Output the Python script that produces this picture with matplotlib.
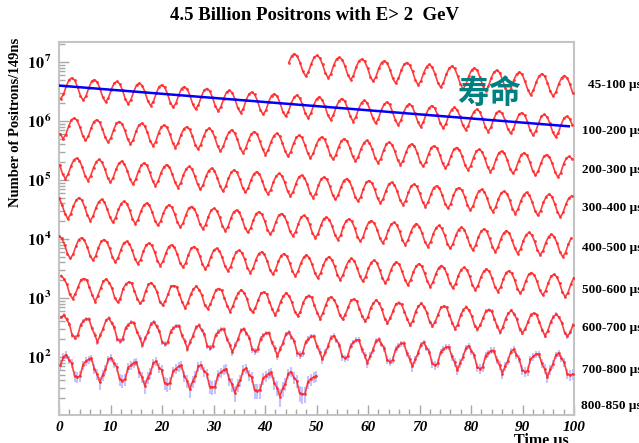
import numpy as np
import matplotlib
matplotlib.use('Agg')
import matplotlib.pyplot as plt
from matplotlib.ticker import MultipleLocator, LogLocator, FuncFormatter, NullFormatter

plt.rcParams['font.family'] = ['Liberation Serif', 'DejaVu Sans']
plt.rcParams['mathtext.fontset'] = 'stix'

# time spectrum, wrapped every 100 us; bins of 0.546 us (1/8 of the g-2 period)
bin_width = 0.546
row_names = ['45-100 µs', '100-200 µs', '200-300 µs', '300-400 µs', '400-500 µs',
             '500-600 µs', '600-700 µs', '700-800 µs', '800-850 µs']
row_start = [44.62, 100.32, 200.23, 300.15, 400.07, 500.01, 600.45, 700.37, 800.29]

# log10(positrons / 149 ns)
row_45_100 = [
    6.99, 7.10,
    7.14, 7.10, 6.99, 6.84, 6.76, 6.83, 6.97, 7.08,
    7.11, 7.07, 6.96, 6.81, 6.73, 6.80, 6.95, 7.05,
    7.08, 7.04, 6.93, 6.78, 6.70, 6.77, 6.92, 7.02,
    7.05, 7.01, 6.90, 6.75, 6.67, 6.75, 6.89, 6.99,
    7.02, 6.98, 6.87, 6.72, 6.64, 6.72, 6.86, 6.96,
    6.99, 6.95, 6.84, 6.69, 6.61, 6.68, 6.82, 6.92,
    6.96, 6.91, 6.80, 6.65, 6.57, 6.65, 6.79, 6.89,
    6.93, 6.89, 6.77, 6.63, 6.54, 6.62, 6.76, 6.86,
    6.90, 6.86, 6.74, 6.60, 6.51, 6.59, 6.73, 6.83,
    6.86, 6.82, 6.70, 6.56, 6.47, 6.55, 6.69, 6.79,
    6.83, 6.79, 6.67, 6.53, 6.44, 6.52, 6.66, 6.76,
    6.80, 6.76, 6.65, 6.50, 6.42, 6.49, 6.63, 6.73,
    6.77, 6.73, 6.62, 6.47,
]
row_100_200 = [
    6.38, 6.45, 6.59, 6.70,
    6.73, 6.69, 6.58, 6.43, 6.35, 6.42, 6.56, 6.67,
    6.70, 6.66, 6.55, 6.40, 6.32, 6.39, 6.53, 6.64,
    6.67, 6.63, 6.52, 6.37, 6.29, 6.36, 6.50, 6.61,
    6.64, 6.60, 6.49, 6.34, 6.26, 6.33, 6.47, 6.58,
    6.61, 6.57, 6.46, 6.31, 6.23, 6.30, 6.44, 6.55,
    6.58, 6.54, 6.43, 6.28, 6.20, 6.27, 6.41, 6.52,
    6.55, 6.51, 6.40, 6.25, 6.17, 6.24, 6.38, 6.49,
    6.52, 6.48, 6.37, 6.22, 6.14, 6.21, 6.36, 6.46,
    6.49, 6.45, 6.34, 6.19, 6.11, 6.18, 6.33, 6.43,
    6.46, 6.42, 6.31, 6.16, 6.08, 6.16, 6.30, 6.40,
    6.44, 6.39, 6.28, 6.13, 6.05, 6.13, 6.27, 6.37,
    6.41, 6.36, 6.25, 6.10, 6.02, 6.10, 6.24, 6.34,
    6.38, 6.34, 6.22, 6.08, 5.99, 6.07, 6.21, 6.31,
    6.35, 6.31, 6.19, 6.05, 5.96, 6.04, 6.18, 6.28,
    6.32, 6.28, 6.16, 6.02, 5.93, 6.01, 6.15, 6.25,
    6.29, 6.25, 6.13, 5.99, 5.90, 5.98, 6.12, 6.22,
    6.26, 6.22, 6.11, 5.96, 5.88, 5.95, 6.09, 6.19,
    6.23, 6.19, 6.08, 5.93, 5.85, 5.92, 6.06, 6.16,
    6.20, 6.16, 6.05, 5.90, 5.82, 5.89, 6.03, 6.14,
    6.17, 6.13, 6.02, 5.87, 5.79, 5.86, 6.00, 6.11,
    6.14, 6.10, 5.99, 5.84, 5.76, 5.83, 5.97, 6.08,
    6.11, 6.07, 5.96, 5.81, 5.73, 5.80, 5.94, 6.05,
    6.08, 6.04, 5.93,
]
row_200_300 = [
    5.78, 5.70, 5.77, 5.91, 6.02,
    6.05, 6.01, 5.90, 5.75, 5.67, 5.74, 5.88, 5.99,
    6.02, 5.98, 5.87, 5.72, 5.64, 5.71, 5.85, 5.96,
    5.99, 5.95, 5.84, 5.69, 5.61, 5.68, 5.83, 5.93,
    5.96, 5.92, 5.81, 5.66, 5.58, 5.65, 5.80, 5.90,
    5.93, 5.89, 5.78, 5.63, 5.55, 5.63, 5.77, 5.87,
    5.90, 5.86, 5.75, 5.60, 5.52, 5.60, 5.74, 5.84,
    5.88, 5.83, 5.72, 5.57, 5.49, 5.57, 5.71, 5.81,
    5.85, 5.80, 5.69, 5.54, 5.46, 5.54, 5.68, 5.78,
    5.82, 5.78, 5.66, 5.52, 5.43, 5.51, 5.65, 5.75,
    5.79, 5.75, 5.63, 5.49, 5.40, 5.48, 5.62, 5.72,
    5.76, 5.72, 5.60, 5.46, 5.37, 5.45, 5.59, 5.69,
    5.73, 5.69, 5.58, 5.43, 5.35, 5.42, 5.56, 5.66,
    5.70, 5.66, 5.55, 5.40, 5.32, 5.39, 5.53, 5.63,
    5.67, 5.63, 5.52, 5.37, 5.29, 5.36, 5.50, 5.61,
    5.64, 5.60, 5.49, 5.34, 5.26, 5.33, 5.47, 5.58,
    5.61, 5.57, 5.46, 5.31, 5.23, 5.30, 5.44, 5.55,
    5.58, 5.54, 5.43, 5.28, 5.20, 5.27, 5.41, 5.52,
    5.55, 5.51, 5.40, 5.25, 5.17, 5.24, 5.38, 5.49,
    5.52, 5.48, 5.37, 5.22, 5.14, 5.21, 5.35, 5.46,
    5.49, 5.45, 5.34, 5.19, 5.11, 5.18, 5.32, 5.43,
    5.46, 5.42, 5.31, 5.16, 5.08, 5.15, 5.29, 5.40,
    5.43, 5.39, 5.28, 5.13, 5.05, 5.12, 5.27, 5.37,
    5.40, 5.36,
]
row_300_400 = [
    5.25, 5.10, 5.02, 5.10, 5.24, 5.34,
    5.37, 5.33, 5.22, 5.07, 4.99, 5.07, 5.21, 5.31,
    5.35, 5.30, 5.19, 5.04, 4.96, 5.04, 5.18, 5.28,
    5.32, 5.27, 5.16, 5.01, 4.93, 5.01, 5.15, 5.25,
    5.29, 5.25, 5.13, 4.99, 4.90, 4.98, 5.12, 5.22,
    5.26, 5.22, 5.10, 4.96, 4.87, 4.95, 5.09, 5.19,
    5.23, 5.19, 5.07, 4.93, 4.84, 4.92, 5.06, 5.16,
    5.20, 5.16, 5.04, 4.90, 4.81, 4.89, 5.03, 5.13,
    5.17, 5.13, 5.02, 4.87, 4.79, 4.86, 5.00, 5.10,
    5.14, 5.10, 4.99, 4.84, 4.76, 4.83, 4.97, 5.07,
    5.11, 5.07, 4.96, 4.81, 4.73, 4.80, 4.94, 5.05,
    5.08, 5.04, 4.93, 4.78, 4.70, 4.77, 4.91, 5.02,
    5.05, 5.01, 4.90, 4.75, 4.67, 4.74, 4.88, 4.99,
    5.02, 4.98, 4.87, 4.72, 4.64, 4.71, 4.85, 4.96,
    4.99, 4.95, 4.84, 4.69, 4.61, 4.68, 4.82, 4.93,
    4.96, 4.92, 4.81, 4.66, 4.58, 4.65, 4.79, 4.90,
    4.93, 4.89, 4.78, 4.63, 4.55, 4.62, 4.76, 4.87,
    4.90, 4.86, 4.75, 4.60, 4.52, 4.59, 4.74, 4.84,
    4.87, 4.83, 4.72, 4.57, 4.49, 4.56, 4.71, 4.81,
    4.84, 4.80, 4.69, 4.54, 4.46, 4.54, 4.68, 4.78,
    4.81, 4.77, 4.66, 4.51, 4.43, 4.51, 4.65, 4.75,
    4.79, 4.74, 4.63, 4.48, 4.40, 4.48, 4.62, 4.72,
    4.76, 4.72, 4.60, 4.46, 4.37, 4.45, 4.59, 4.69,
    4.73,
]
row_400_500 = [
    4.69, 4.57, 4.43, 4.34, 4.42, 4.56, 4.66,
    4.70, 4.66, 4.54, 4.40, 4.31, 4.39, 4.53, 4.63,
    4.67, 4.63, 4.51, 4.37, 4.28, 4.36, 4.50, 4.60,
    4.64, 4.60, 4.49, 4.34, 4.26, 4.33, 4.47, 4.57,
    4.61, 4.57, 4.46, 4.31, 4.23, 4.30, 4.44, 4.54,
    4.58, 4.54, 4.43, 4.28, 4.20, 4.27, 4.41, 4.52,
    4.55, 4.51, 4.40, 4.25, 4.17, 4.24, 4.38, 4.49,
    4.52, 4.48, 4.37, 4.22, 4.14, 4.21, 4.35, 4.46,
    4.49, 4.45, 4.34, 4.19, 4.11, 4.18, 4.32, 4.43,
    4.46, 4.42, 4.31, 4.16, 4.08, 4.15, 4.29, 4.40,
    4.43, 4.39, 4.28, 4.13, 4.05, 4.12, 4.26, 4.37,
    4.40, 4.36, 4.25, 4.10, 4.02, 4.09, 4.23, 4.34,
    4.37, 4.33, 4.22, 4.07, 3.99, 4.06, 4.21, 4.31,
    4.34, 4.30, 4.19, 4.04, 3.96, 4.03, 4.18, 4.28,
    4.31, 4.27, 4.16, 4.01, 3.93, 4.01, 4.15, 4.25,
    4.28, 4.24, 4.13, 3.98, 3.90, 3.98, 4.12, 4.22,
    4.26, 4.21, 4.10, 3.95, 3.87, 3.95, 4.09, 4.19,
    4.23, 4.18, 4.07, 3.92, 3.84, 3.92, 4.06, 4.16,
    4.20, 4.16, 4.04, 3.90, 3.81, 3.89, 4.03, 4.13,
    4.17, 4.13, 4.01, 3.87, 3.78, 3.86, 4.00, 4.10,
    4.14, 4.10, 3.98, 3.84, 3.75, 3.83, 3.97, 4.07,
    4.11, 4.07, 3.96, 3.81, 3.73, 3.80, 3.94, 4.04,
    4.08, 4.04, 3.93, 3.78, 3.70, 3.77, 3.91, 4.01,
]
row_500_600 = [
    4.05, 4.01, 3.90, 3.75, 3.67, 3.74, 3.88, 3.99,
    4.02, 3.98, 3.87, 3.72, 3.64, 3.71, 3.85, 3.96,
    3.99, 3.95, 3.84, 3.69, 3.61, 3.68, 3.82, 3.93,
    3.96, 3.92, 3.81, 3.66, 3.58, 3.65, 3.79, 3.90,
    3.93, 3.89, 3.78, 3.63, 3.55, 3.62, 3.76, 3.87,
    3.90, 3.86, 3.75, 3.60, 3.52, 3.59, 3.73, 3.84,
    3.87, 3.83, 3.72, 3.57, 3.49, 3.56, 3.70, 3.81,
    3.84, 3.80, 3.69, 3.54, 3.46, 3.53, 3.67, 3.78,
    3.81, 3.77, 3.66, 3.51, 3.43, 3.50, 3.65, 3.75,
    3.78, 3.74, 3.63, 3.48, 3.40, 3.48, 3.62, 3.72,
    3.75, 3.71, 3.60, 3.45, 3.37, 3.45, 3.59, 3.69,
    3.73, 3.68, 3.57, 3.42, 3.34, 3.42, 3.56, 3.66,
    3.70, 3.65, 3.54, 3.39, 3.31, 3.39, 3.53, 3.63,
    3.67, 3.63, 3.51, 3.37, 3.28, 3.36, 3.50, 3.60,
    3.64, 3.60, 3.48, 3.34, 3.25, 3.33, 3.47, 3.57,
    3.61, 3.57, 3.45, 3.31, 3.22, 3.30, 3.44, 3.54,
    3.58, 3.54, 3.42, 3.28, 3.19, 3.27, 3.41, 3.51,
    3.55, 3.51, 3.40, 3.25, 3.17, 3.24, 3.38, 3.48,
    3.52, 3.48, 3.37, 3.22, 3.14, 3.21, 3.35, 3.45,
    3.49, 3.45, 3.34, 3.19, 3.11, 3.18, 3.32, 3.43,
    3.46, 3.42, 3.31, 3.16, 3.08, 3.15, 3.29, 3.40,
    3.43, 3.39, 3.28, 3.13, 3.05, 3.12, 3.26, 3.37,
    3.40, 3.36, 3.25, 3.10, 3.02, 3.09, 3.23, 3.34,
]
row_600_700 = [
    3.38, 3.32, 3.23, 3.06, 2.99, 3.07, 3.19, 3.31,
    3.33, 3.31, 3.18, 3.05, 2.94, 3.04, 3.17, 3.29,
    3.32, 3.26, 3.17, 3.00, 2.93, 2.99, 3.16, 3.24,
    3.27, 3.25, 3.12, 2.99, 2.91, 2.96, 3.12, 3.23,
    3.26, 3.20, 3.11, 2.94, 2.88, 2.95, 3.07, 3.20,
    3.21, 3.19, 3.06, 2.93, 2.83, 2.92, 3.06, 3.15,
    3.20, 3.14, 3.05, 2.88, 2.82, 2.89, 3.02, 3.14,
    3.16, 3.13, 3.00, 2.87, 2.77, 2.86, 3.00, 3.09,
    3.14, 3.09, 2.99, 2.82, 2.76, 2.83, 2.96, 3.08,
    3.10, 3.07, 2.94, 2.81, 2.71, 2.80, 2.94, 3.03,
    3.09, 3.03, 2.93, 2.77, 2.70, 2.76, 2.92, 3.01,
    3.04, 3.01, 2.88, 2.75, 2.65, 2.74, 2.88, 2.99,
    3.02, 2.97, 2.87, 2.71, 2.64, 2.72, 2.84, 2.96,
    2.98, 2.95, 2.82, 2.69, 2.61, 2.67, 2.83, 2.91,
    2.97, 2.91, 2.81, 2.65, 2.58, 2.66, 2.78, 2.90,
    2.92, 2.89, 2.77, 2.64, 2.54, 2.61, 2.77, 2.86,
    2.91, 2.85, 2.75, 2.59, 2.53, 2.60, 2.72, 2.84,
    2.86, 2.84, 2.71, 2.58, 2.48, 2.55, 2.71, 2.80,
    2.85, 2.79, 2.69, 2.53, 2.47, 2.54, 2.66, 2.78,
    2.80, 2.78, 2.65, 2.52, 2.42, 2.50, 2.65, 2.74,
    2.79, 2.73, 2.64, 2.47, 2.41, 2.48, 2.60, 2.72,
    2.74, 2.72, 2.59, 2.46, 2.36, 2.44, 2.59, 2.68,
    2.73, 2.67, 2.58, 2.41, 2.35, 2.42, 2.55,
]
row_700_800 = [
    2.67,
    2.71, 2.64, 2.56, 2.37, 2.33, 2.37, 2.54, 2.61,
    2.65, 2.64, 2.49, 2.38, 2.26, 2.37, 2.48, 2.62,
    2.66, 2.58, 2.50, 2.31, 2.27, 2.31, 2.49, 2.55,
    2.59, 2.58, 2.43, 2.33, 2.20, 2.32, 2.42, 2.56,
    2.60, 2.52, 2.44, 2.25, 2.22, 2.25, 2.43, 2.49,
    2.53, 2.53, 2.37, 2.27, 2.14, 2.26, 2.36, 2.50,
    2.54, 2.46, 2.39, 2.19, 2.16, 2.19, 2.37, 2.43,
    2.47, 2.47, 2.31, 2.21, 2.08, 2.20, 2.30, 2.45,
    2.48, 2.40, 2.33, 2.13, 2.10, 2.13, 2.31, 2.37,
    2.41, 2.41, 2.25, 2.15, 2.02, 2.14, 2.24, 2.39,
    2.42, 2.34, 2.27, 2.07, 2.04, 2.07, 2.25, 2.31,
    2.35, 2.35, 2.19, 2.09, 1.96, 2.08, 2.18, 2.33,
    2.36, 2.28, 2.21, 2.01, 1.98, 2.01, 2.19, 2.25,
    2.29, 2.29, 2.13, 2.03, 1.90, 2.02, 2.12, 2.27,
    2.30, 2.22, 2.15, 1.95, 1.92, 1.95, 2.13, 2.19,
    2.23, 2.23, 2.07, 1.97, 1.84, 1.96, 2.06, 2.21,
    2.25, 2.16, 2.09, 1.89, 1.86, 1.89, 2.08, 2.13,
    2.17, 2.17, 2.01, 1.91, 1.78, 1.90, 2.00, 2.15,
    2.19, 2.10, 2.03, 1.83, 1.80, 1.83, 2.02, 2.07,
    2.11, 2.11, 1.95, 1.86, 1.72, 1.85, 1.94, 2.09,
    2.13, 2.04, 1.97, 1.78, 1.75, 1.77, 1.96, 2.01,
    2.05, 2.05, 1.89, 1.80, 1.66, 1.79, 1.88, 2.03,
    2.07, 1.98, 1.91, 1.72, 1.69, 1.71,
]
row_800_850 = [
    1.86, 2.00,
    2.04, 1.95, 1.89, 1.68, 1.66, 1.68, 1.87, 1.93,
    1.96, 1.98, 1.80, 1.71, 1.57, 1.70, 1.79, 1.96,
    1.99, 1.89, 1.83, 1.62, 1.60, 1.62, 1.82, 1.86,
    1.90, 1.92, 1.74, 1.66, 1.51, 1.65, 1.73, 1.90,
    1.93, 1.82, 1.78, 1.56, 1.54, 1.56, 1.76, 1.80,
    1.84, 1.86, 1.68, 1.60, 1.45, 1.59, 1.67, 1.84,
    1.87, 1.76, 1.72, 1.50, 1.49, 1.50, 1.70, 1.74,
    1.78, 1.80, 1.62, 1.54, 1.39, 1.53, 1.61, 1.78,
    1.81, 1.70, 1.66, 1.44, 1.43, 1.44, 1.64, 1.68,
    1.72, 1.74, 1.56, 1.48, 1.33, 1.47, 1.55, 1.72,
    1.75, 1.65, 1.60, 1.39, 1.37, 1.38, 1.58, 1.63,
    1.66, 1.68,
]
rows = [row_45_100, row_100_200, row_200_300, row_300_400, row_400_500,
        row_500_600, row_600_700, row_700_800, row_800_850]

# exponential (lifetime) line drawn over the 100-200 us row
life_t = [0, 99]
life_log = [6.60, 5.91]

# right-hand row labels, y in pixels from the top of the image
label_y_px = [85, 131, 170, 208, 248, 290, 328, 370, 406]

W, H = 639, 443
fig = plt.figure(figsize=(W / 100, H / 100), dpi=100)
ax = fig.add_axes([59 / W, 1 - 415 / H, 515 / W, 373 / H])

for start, vals in zip(row_start, rows):
    v = np.array(vals)
    t = start + bin_width * np.arange(len(v))
    x = t - 100 * np.floor(start / 100)
    n = 10 ** v
    # statistical error bars, drawn a bit wide as in the reference
    ax.errorbar(x, n, yerr=1.5 * np.sqrt(n), fmt='none', ecolor='#7a7aff',
                elinewidth=1.5, alpha=0.45, zorder=2)
    ax.plot(x, n, color='#ff2a2a', lw=1.2, marker='o', ms=2.0, mew=0,
            alpha=0.9, zorder=3)

ax.plot(life_t, 10 ** np.array(life_log), color='#0000ff', lw=1.8, zorder=4)

ax.set_yscale('log')
ax.set_xlim(0, 100)
ax.set_ylim(10.4, 2.18e7)
ax.xaxis.set_major_locator(MultipleLocator(10))
ax.xaxis.set_minor_locator(MultipleLocator(2))
ax.yaxis.set_major_locator(LogLocator(base=10))
ax.yaxis.set_minor_locator(LogLocator(base=10, subs=np.arange(2, 10), numticks=20))
ax.yaxis.set_minor_formatter(NullFormatter())
ax.yaxis.set_major_formatter(FuncFormatter(
    lambda v, p: r'$\mathbf{10^{\,%d}}$' % int(round(np.log10(v)))))

for s in ax.spines.values():
    s.set_color('#c4c4c4')
    s.set_linewidth(1.5)
ax.tick_params(which='both', direction='in', color='#a8a8a8')
ax.tick_params(which='major', length=7, width=1)
ax.tick_params(which='minor', length=4, width=1)
ax.tick_params(axis='y', labelsize=11.5, pad=5)
ax.tick_params(axis='x', labelsize=11, pad=4)
for lab in ax.get_xticklabels():
    lab.set_fontweight('bold')
    lab.set_fontstyle('italic')

fig.text(315 / W, 1 - 16 / H, '4.5 Billion Positrons with E> 2  GeV',
         ha='center', va='center', fontsize=13.5, weight='bold')
fig.text(16 / W, 1 - 122 / H, 'Number of Positrons/149ns', rotation=90,
         ha='center', va='center', fontsize=10.5, weight='bold')
fig.text(541 / W, 1 - 433 / H, 'Time µs', ha='center', va='top',
         fontsize=11.5, weight='bold')
for name, y in zip(row_names, label_y_px):
    fig.text(642 / W, 1 - y / H, name, ha='right', va='center',
             fontsize=9.5, weight='bold')
fig.text(489 / W, 1 - 94 / H, '寿命', ha='center', va='center', fontsize=23,
         weight='bold', color='#008080', family=['Noto Sans CJK SC', 'DejaVu Sans'])

fig.savefig('out.png', dpi=100)
